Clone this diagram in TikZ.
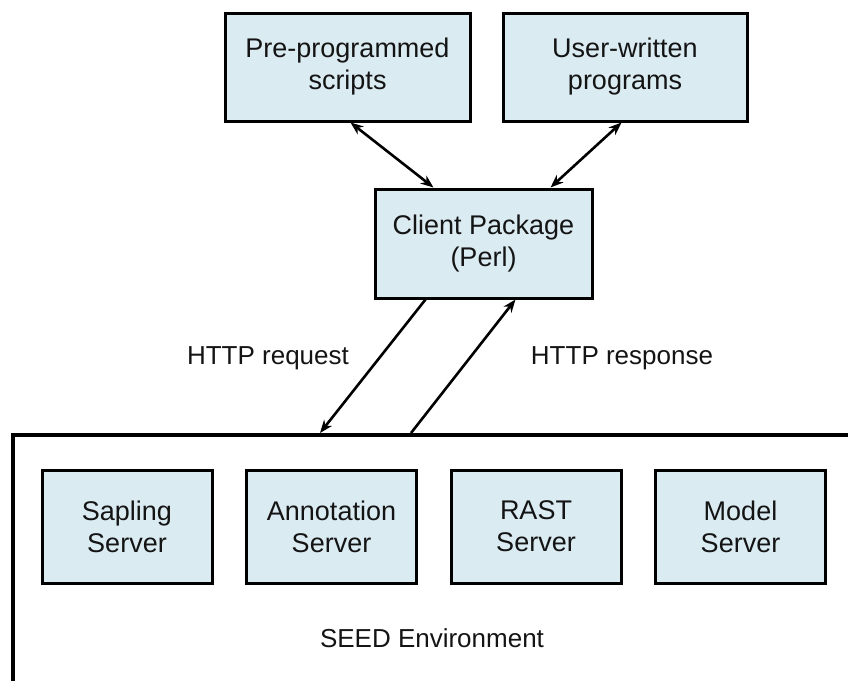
\documentclass[tikz,border=0pt]{standalone}
\usepackage{fontspec}
\setmainfont{Liberation Sans}
\usetikzlibrary{arrows.meta, positioning}

\definecolor{boxblue}{RGB}{218,235,242}
\definecolor{inkgrey}{RGB}{20,20,20}

\begin{document}
\begin{tikzpicture} [x = 1pt, y = -1pt, node distance = 204.5pt, on grid,
	>={Stealth[length = 13pt, width = 10pt]},
	box/.style = {draw, line width = 3pt, fill = boxblue, align = center, text = inkgrey,
		inner sep = 0pt, font = \fontsize{27}{32}\selectfont},
	server/.style = {box, minimum width = 170pt, minimum height = 113pt},
	tag/.style = {text = inkgrey, font = \fontsize{26}{31}\selectfont}]

\useasboundingbox (0,0) rectangle (848,680);

\node (pre) [box, minimum width = 245pt, minimum height = 108pt] at (347.5,67) {Pre-programmed\\scripts};
\node (user) [box, minimum width = 244pt, minimum height = 108pt] at (625,67) {User-written\\programs};
\node (client) [box, minimum width = 217pt, minimum height = 109pt] at (483.5,243.5) {Client Package\\(Perl)};

\node (env) [draw, line width = 4pt, minimum width = 847pt, minimum height = 255pt, inner sep = 0pt] at (436.5,562.5) {};
\node (sapling) [server] at (127,526.5) {Sapling\\Server};
\node (annot) [server, right = of sapling] {Annotation\\Server};
\node (rast) [server, right = of annot] {RAST\\Server};
\node (model) [server, right = of rast] {Model\\Server};
\node (seed) [tag] at (432,638) {SEED Environment};

\node (req) [tag] at (268,358) {HTTP request};
\node (resp) [tag] at (622,358) {HTTP response};

\path [line width = 2.6pt]
	([xshift = 127pt]pre.south west) edge [<->] ([xshift = 60pt]client.north west)
	([xshift = 120pt]user.south west) edge [<->] ([xshift = 177pt]client.north west)
	([xshift = 52pt]client.south west) edge [->] ([xshift = 309pt]env.north west)
	([xshift = 400pt]env.north west) edge [->] ([xshift = 142pt]client.south west);
\end{tikzpicture}
\end{document}
